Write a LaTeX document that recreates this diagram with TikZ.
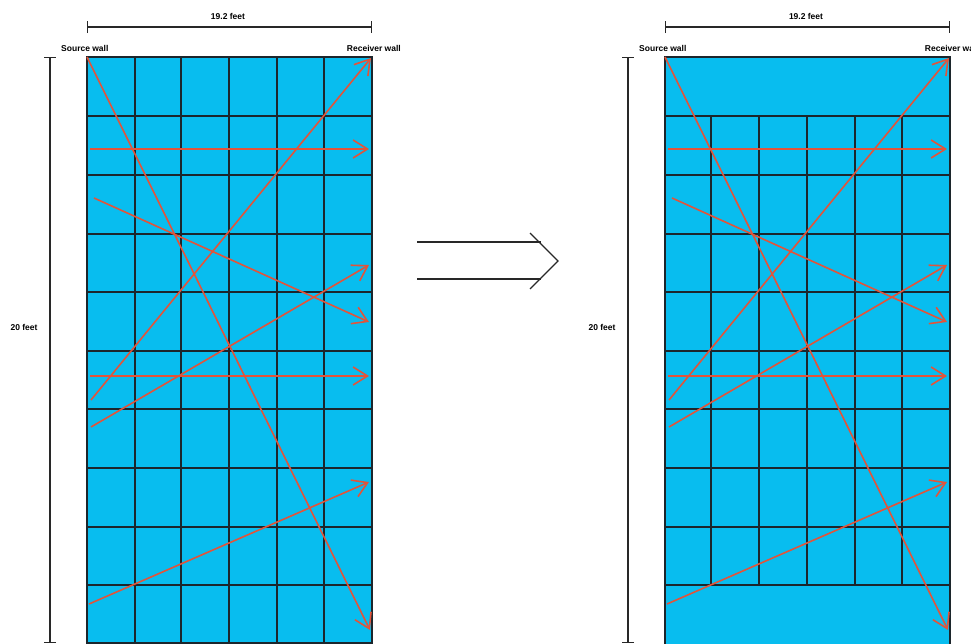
\documentclass[tikz,border=0pt]{standalone}
\usepackage{fontspec}
\setmainfont{Liberation Sans}
\usetikzlibrary{arrows.meta}
\definecolor{wall}{RGB}{8,189,239}
\definecolor{ray}{RGB}{226,84,58}
\definecolor{gridc}{RGB}{28,38,44}
\definecolor{dimc}{RGB}{40,40,40}
\tikzset{
  gridline/.style={draw=gridc,line width=1.5pt},
  rayarrow/.style={draw=ray,line width=1.6pt,-{Straight Barb[angle=64:17pt,line width=1.6pt]}},
  dimline/.style={draw=dimc,line width=1.2pt,{Bar[width=12pt]}-{Bar[width=12pt]}},
  lab/.style={font=\bfseries\fontsize{8.5}{9}\selectfont,text=black,inner sep=0pt},
  implies/.style={draw=dimc,line width=1.3pt}
}
\begin{document}
\begin{tikzpicture}[x=1pt,y=-1pt]
\useasboundingbox (0,0) rectangle (971,643);
\clip (0,0) rectangle (971,643);
\foreach \p/\dx in {L/0,R/578}{
\begin{scope}[xshift=\dx pt]
  \fill[wall] (87,57) rectangle (372,660);
  \ifnum\dx=0
    \foreach \x in {135,181,229,277,324} \draw[gridline] (\x,57) -- (\x,660);
    \foreach \y in {116,175,234,292,351,409,468,527,585,643} \draw[gridline] (87,\y) -- (372,\y);
  \else
    \foreach \x in {133,181,229,277,324} \draw[gridline] (\x,116) -- (\x,585);
    \foreach \y in {116,175,234,292,351,409,468,527,585} \draw[gridline] (87,\y) -- (372,\y);
  \fi
  \draw[gridline] (87,660) -- (87,57) -- (372,57) -- (372,660);
  % dimensions
  \coordinate (\p-h1) at (87,27);
  \coordinate (\p-h2) at (372,27);
  \draw[dimline] (\p-h1) -- (\p-h2);
  \node[lab] (\p-width) at (228,16) {19.2 feet};
  \coordinate (\p-v1) at (50,57);
  \coordinate (\p-v2) at (50,643);
  \draw[dimline] (\p-v1) -- (\p-v2);
  \node[lab] (\p-height) at (24,327) {20 feet};
  \node[lab,anchor=west] (\p-src) at (61,48) {Source wall};
  \node[lab,anchor=east] (\p-rcv) at (401,48) {Receiver wall};
  % rays
  \coordinate (\p-a1s) at (87,57);   \coordinate (\p-a1e) at (370,630);
  \coordinate (\p-a2s) at (91,400);  \coordinate (\p-a2e) at (371,58);
  \coordinate (\p-a3s) at (90,149);  \coordinate (\p-a3e) at (369,149);
  \coordinate (\p-a4s) at (94,198);  \coordinate (\p-a4e) at (369,322);
  \coordinate (\p-a5s) at (91,427);  \coordinate (\p-a5e) at (369,265);
  \coordinate (\p-a6s) at (90,376);  \coordinate (\p-a6e) at (369,376);
  \coordinate (\p-a7s) at (89,604);  \coordinate (\p-a7e) at (369,482);
  \foreach \i in {1,...,7} \draw[rayarrow] (\p-a\i s) -- (\p-a\i e);
\end{scope}
}
% implies arrow
\coordinate (m1s) at (417,242); \coordinate (m1e) at (541,242);
\coordinate (m2s) at (417,279); \coordinate (m2e) at (541,279);
\coordinate (mt) at (558,261);
\coordinate (mu) at (530,233); \coordinate (md) at (530,289);
\draw[implies] (m1s) -- (m1e);
\draw[implies] (m2s) -- (m2e);
\draw[implies] (mu) -- (mt) -- (md);
\end{tikzpicture}
\end{document}
